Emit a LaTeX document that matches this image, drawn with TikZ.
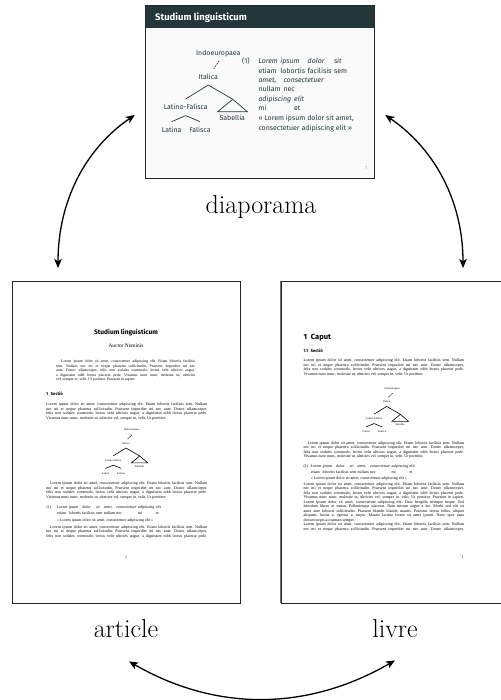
\documentclass[tikz,border=0pt]{standalone}
\usepackage{fontspec}
\newfontfamily\fira{Fira Sans}
\newfontfamily\tnr{Liberation Serif}
\usetikzlibrary{arrows.meta}
\definecolor{mDarkTeal}{HTML}{23373B}
\definecolor{slidebg}{HTML}{FAFAFA}
\frenchspacing
\newcommand\jl[1]{\hbox to\hsize{#1}}
\newcommand\lipA{Lorem ipsum dolor sit amet, consectetuer adipiscing elit. Etiam lobortis facilisis sem. Nullam}
\newcommand\lipB{nec mi et neque pharetra sollicitudin. Praesent imperdiet mi nec ante. Donec ullamcorper,}
\newcommand\lipC{felis non sodales commodo, lectus velit ultrices augue, a dignissim nibh lectus placerat pede.}
\newcommand\lipD{Vivamus nunc nunc, molestie ut, ultricies vel, semper in, velit. Ut porttitor.}
\newcommand\bodyfont{\tnr\fontsize{4}{4.5}\selectfont\frenchspacing}
\newcommand\glosstab{\def\arraystretch{1.36}\begin{tabular}[t]{@{}*{7}{l@{\hspace{.33em}}}l@{}}
\textit{Lorem}&\textit{ipsum}&\textit{dolor}&\textit{sit}&\textit{amet,}&\textit{consectetuer}&\textit{adipiscing}&\textit{elit}\\
etiam&lobortis&facilisis&sem&nullam&nec&mi&et\\
\multicolumn{8}{@{}l@{}}{«~Lorem ipsum dolor sit amet, consectetuer adipiscing elit~»}
\end{tabular}}
\tikzset{
  tn/.style 2 args={font=#1, inner xsep=0.3pt, inner ysep=#2, anchor=center},
  pagebox/.style={draw=black!85, line width=0.9pt, fill=white, minimum width=228pt, minimum height=322pt, inner sep=0},
  link/.style={line width=1.3pt, {Stealth[length=9pt,width=7.5pt,inset=2.2pt]}-{Stealth[length=9pt,width=7.5pt,inset=2.2pt]}},
  lbl/.style={anchor=base, inner sep=0, font=\fontsize{26}{30}\selectfont},
  sgl/.style={anchor=base west, inner sep=0, text=mDarkTeal, font=\fira\fontsize{7}{9.3}\selectfont},
}
\newcommand\lingtree[6]{%
\begin{scope}[shift={#2}, scale=#3]
\node[tn={#4}{#5}] (#1ie) at (10,-23.4) {Indoeuropaea};
\node[tn={#4}{#5}] (#1it) at (0,0) {Italica};
\node[tn={#4}{#5}] (#1lf) at (-22.6,30.6) {Latino-Falisca};
\node[tn={#4}{#5}] (#1sb) at (24,41.6) {Sabellia};
\node[tn={#4}{#5}] (#1la) at (-36.6,53.3) {Latina};
\node[tn={#4}{#5}] (#1fa) at (-8.3,53.3) {Falisca};
\coordinate (#1st) at (24.4,22.6);
\draw[#6] ([xshift=#3*0.7pt,yshift=#3*1.2pt]#1ie.south) -- ([xshift=#3*5pt,yshift=-#3*1.2pt]#1it.north);
\draw (#1it.south) -- (#1lf.north);
\draw (#1it.south) -- (#1st);
\draw (#1st) -- ++(-15,12.4) -- ++(29.6,0) -- cycle;
\draw (#1lf.south) -- (#1la.north);
\draw (#1lf.south) -- (#1fa.north);
\end{scope}}
\begin{document}
\begin{tikzpicture}[x=1pt,y=-1pt]
\useasboundingbox (0,0) rectangle (500,700);

% ---------- slide ----------
\node[fill=slidebg, minimum width=228pt, minimum height=172pt, inner sep=0] (slide) at (260,92) {};
\fill[mDarkTeal] (slide.north west) rectangle ([yshift=-22pt]slide.north east);
\draw[black!85, line width=0.9pt] (slide.south west) rectangle (slide.north east);
\node[anchor=base west, inner sep=0, text=white, font=\fira\bfseries\fontsize{9.5}{11}\selectfont] (stitle) at (155,20.6) {Studium linguisticum};
\begin{scope}[color=mDarkTeal, line width=0.7pt]
\lingtree{s}{(208.3,76.7)}{1}{\fira\fontsize{7}{8}\selectfont}{5.2pt}{dash pattern=on 1.5pt off 1.2pt}
\end{scope}
\node[sgl] (snr) at (242,63.8) {(1)};
\node[sgl] (sg1) at (258.3,63.8) {\begin{tabular}[t]{@{}l@{\hspace{2.5pt}}l@{\hspace{2.5pt}}l@{\hspace{2.5pt}}l@{}}\textit{Lorem}&\textit{ipsum}&\textit{dolor}&\textit{sit}\\ etiam&lobortis&facilisis&sem\end{tabular}};
\node[sgl] (sg2) at (258.3,82.1) {\begin{tabular}[t]{@{}l@{\hspace{3pt}}l@{}}\textit{amet,}&\textit{consectetuer}\\ nullam&nec\end{tabular}};
\node[sgl] (sg3) at (258.3,101.1) {\begin{tabular}[t]{@{}l@{\hspace{3pt}}l@{}}\textit{adipiscing}&\textit{elit}\\ mi&et\end{tabular}};
\node[sgl, font=\fira\fontsize{7}{10}\selectfont] (str) at (258.3,120.4) {\begin{tabular}[t]{@{}l@{}}«~Lorem ipsum dolor sit amet,\\consectetuer adipiscing elit~»\end{tabular}};
\node[inner sep=0, text=black!45, font=\fira\fontsize{4.5}{5}\selectfont] (snum) at (366,168) {1};
\node[lbl] (dlb) at (261,213.3) {diaporama};

% ---------- article ----------
\node[pagebox] (art) at (126,442) {};
\node[anchor=base, inner sep=0, font=\fira\bfseries\fontsize{6.6}{8}\selectfont] (atitle) at (126,334.6) {Studium linguisticum};
\node[anchor=base, inner sep=0, font=\tnr\fontsize{5.4}{6}\selectfont] (aauth) at (126,347.7) {Auctor Nominis};
\node[anchor=base west, inner sep=0] (aabs) at (56,362.6) {\parbox[t]{139pt}{\tnr\fontsize{3.8}{4.5}\selectfont\frenchspacing
\jl{\hspace*{5pt}Lorem ipsum dolor sit amet, consectetuer adipiscing elit. Etiam lobortis facilisis}
\jl{sem. Nullam nec mi et neque pharetra sollicitudin. Praesent imperdiet mi nec}
\jl{ante. Donec ullamcorper, felis non sodales commodo, lectus velit ultrices augue,}
\jl{a dignissim nibh lectus placerat pede. Vivamus nunc nunc, molestie ut, ultricies}
\hbox{vel, semper in, velit. Ut porttitor. Praesent in sapien.}}};
\node[anchor=base west, inner sep=0, font=\fira\bfseries\fontsize{4.3}{5}\selectfont] (asec) at (46,395.7) {1\hspace{2.5pt}Sectiō};
\node[anchor=base west, inner sep=0] (ap1) at (46,405.5) {\parbox[t]{161pt}{\bodyfont
\jl{\lipA}\jl{\lipB}\jl{\lipC}\hbox{\lipD}}};
\begin{scope}[line width=0.6pt]
\lingtree{a}{(126,443.3)}{0.56}{\tnr\fontsize{2.8}{3}\selectfont}{3.45pt}{dash pattern=on 0.9pt off 0.7pt}
\end{scope}
\node[anchor=base west, inner sep=0] (ap2) at (46,484.8) {\parbox[t]{161pt}{\bodyfont
\jl{\hspace*{4pt}\lipA}\jl{\lipB}\jl{\lipC}\hbox{\lipD}}};
\node[anchor=base west, inner sep=0, font=\bodyfont] (agl) at (46.3,508.8) {(1)\hspace{6pt}\glosstab};
\node[anchor=base west, inner sep=0] (ap3) at (46,528.1) {\parbox[t]{161pt}{\bodyfont
\jl{\hspace*{4pt}\lipA}\jl{\lipB}\jl{\lipC}}};
\node[inner sep=0, font=\bodyfont] (anum) at (126,556.7) {1};
\node[lbl] (alb) at (126,637.5) {article};

% ---------- livre ----------
\node[pagebox] (liv) at (395,442) {};
\draw[black!55, line width=1.8pt] (liv.south west) -- (liv.north west);
\node[anchor=base west, inner sep=0, font=\fira\bfseries\fontsize{7.5}{9}\selectfont] (lcap) at (303.3,339.9) {1\hspace{4pt}Caput};
\node[anchor=base west, inner sep=0, font=\fira\bfseries\fontsize{4.3}{5}\selectfont] (lsec) at (303.3,352.4) {1.1\hspace{2.5pt}Sectiō};
\node[anchor=base west, inner sep=0] (lp1) at (303.3,361.8) {\parbox[t]{160.4pt}{\bodyfont
\jl{\lipA}\jl{\lipB}\jl{\lipC}\hbox{\lipD}}};
\begin{scope}[line width=0.6pt]
\lingtree{l}{(386.7,401.7)}{0.56}{\tnr\fontsize{2.8}{3}\selectfont}{3.45pt}{dash pattern=on 0.9pt off 0.7pt}
\end{scope}
\node[anchor=base west, inner sep=0] (lp2) at (303.3,444.4) {\parbox[t]{160.4pt}{\bodyfont
\jl{\hspace*{4pt}\lipA}\jl{\lipB}\jl{\lipC}\hbox{\lipD}}};
\node[anchor=base west, inner sep=0, font=\bodyfont] (lgl) at (303.3,467.1) {(1)\hspace{2.8pt}\glosstab};
\node[anchor=base west, inner sep=0] (lp3) at (303.3,485.4) {\parbox[t]{160.4pt}{\bodyfont
\jl{\lipA}\jl{\lipB}\jl{\lipC}
\jl{Vivamus nunc nunc, molestie ut, ultricies vel, semper in, velit. Ut porttitor. Praesent in sapien.}
\jl{Lorem ipsum dolor sit amet, consectetuer adipiscing elit. Duis fringilla tristique neque. Sed}
\jl{interdum libero ut metus. Pellentesque placerat. Nam rutrum augue a leo. Morbi sed elit sit}
\jl{amet ante lobortis sollicitudin. Praesent blandit blandit mauris. Praesent lectus tellus, aliquet}
\jl{aliquam, luctus a, egestas a, turpis. Mauris lacinia lorem sit amet ipsum. Nunc quis urna}
\hbox{dictum turpis accumsan semper.}
\jl{\lipA}\jl{\lipB}}};
\node[anchor=east, inner sep=0, font=\bodyfont] (lnum) at (463.7,556.7) {1};
\node[lbl] (llb) at (395,637) {livre};

% ---------- connectors ----------
\draw[link] ([xshift=-68pt,yshift=12.5pt]art.north) .. controls +(0,-65) and +(-51,35) .. ([xshift=-11pt,yshift=-23pt]slide.west);
\draw[link] ([xshift=68pt,yshift=12.5pt]liv.north) .. controls +(0,-65) and +(51,35) .. ([xshift=11pt,yshift=-23pt]slide.east);
\draw[link] ([xshift=3pt,yshift=-23.5pt]alb.south) .. controls +(87.5,50.5) and +(-87.5,50.5) .. ([yshift=-23pt]llb.south);
\end{tikzpicture}
\end{document}
